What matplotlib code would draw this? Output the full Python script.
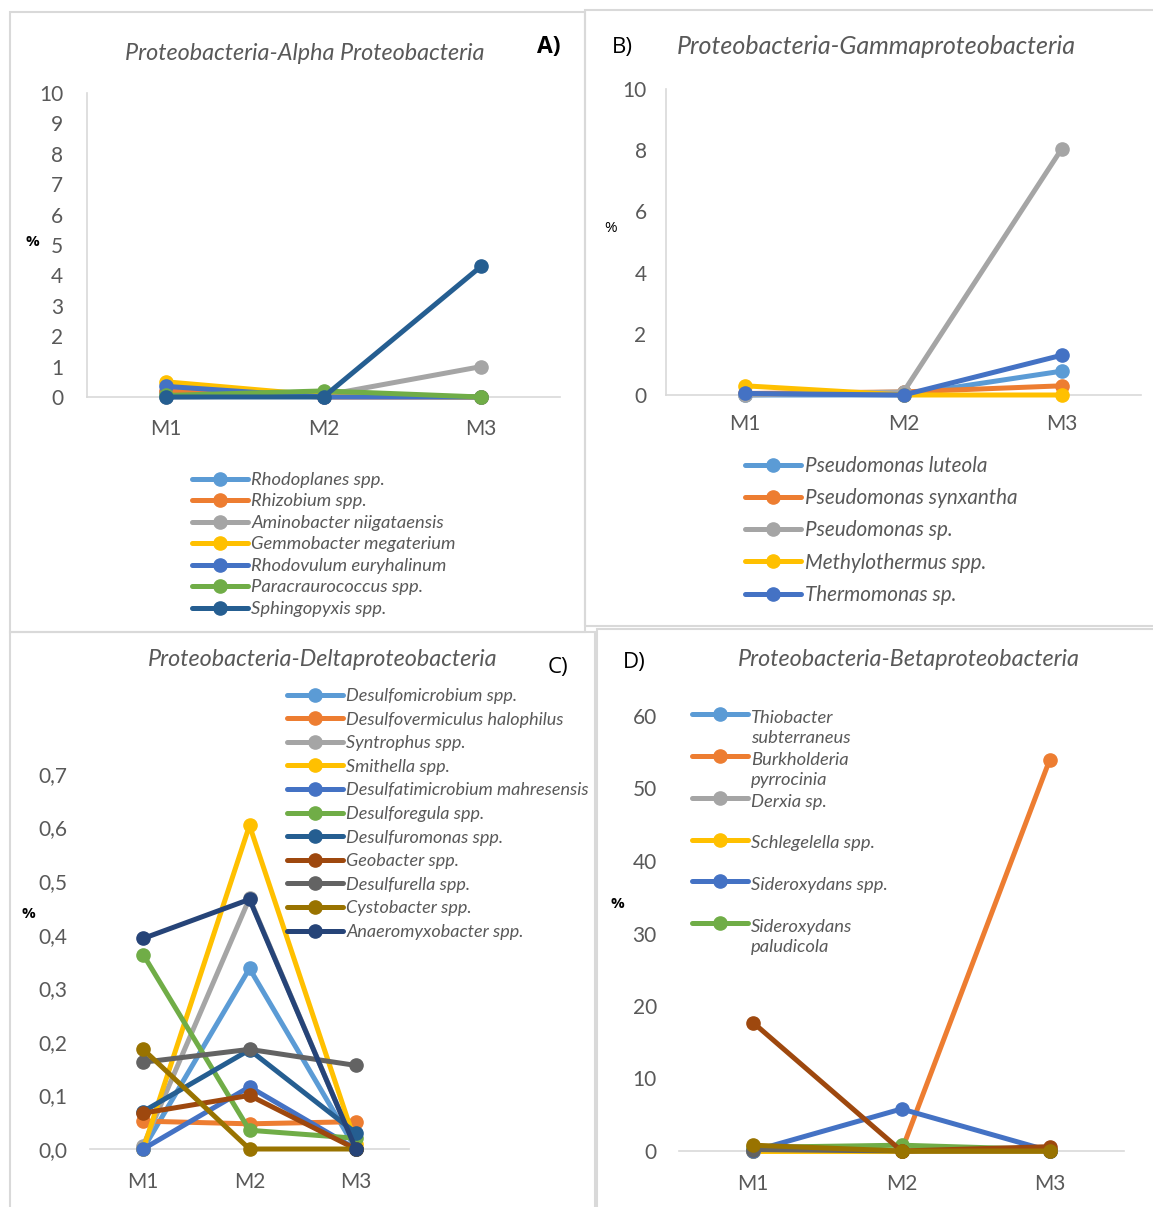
import numpy as np
import matplotlib
matplotlib.use("Agg")
import matplotlib.pyplot as plt
from matplotlib.patches import Rectangle
from matplotlib.lines import Line2D
from matplotlib.legend_handler import HandlerLine2D

plt.rcParams['font.family'] = ['Lato', 'DejaVu Sans']

# ---------------- data ----------------
months = ["M1", "M2", "M3"]

# Panel A - Alpha Proteobacteria (%)
a_labels = ["Rhodoplanes spp.", "Rhizobium spp.", "Aminobacter niigataensis",
            "Gemmobacter megaterium", "Rhodovulum euryhalinum",
            "Paracraurococcus spp.", "Sphingopyxis spp."]
a_rhodoplanes = [0.15, 0.05, 0.0]
a_rhizobium = [0.2, 0.0, 0.0]
a_aminobacter = [0.0, 0.05, 1.0]
a_gemmobacter = [0.5, 0.05, 0.0]
a_rhodovulum = [0.35, 0.0, 0.0]
a_paracraurococcus = [0.05, 0.2, 0.0]
a_sphingopyxis = [0.0, 0.0, 4.3]
a_yticks = list(range(0, 11))

# Panel B - Gammaproteobacteria (%)
b_labels = ["Pseudomonas luteola", "Pseudomonas synxantha", "Pseudomonas sp.",
            "Methylothermus spp.", "Thermomonas sp."]
b_luteola = [0.0, 0.0, 0.78]
b_synxantha = [0.05, 0.1, 0.3]
b_pseudomonas_sp = [0.0, 0.1, 8.05]
b_methylothermus = [0.3, 0.0, 0.0]
b_thermomonas = [0.05, 0.0, 1.3]
b_yticks = [0, 2, 4, 6, 8, 10]

# Panel C - Deltaproteobacteria (%)
c_labels = ["Desulfomicrobium spp.", "Desulfovermiculus halophilus", "Syntrophus spp.",
            "Smithella spp.", "Desulfatimicrobium mahresensis", "Desulforegula spp.",
            "Desulfuromonas spp.", "Geobacter spp.", "Desulfurella spp.",
            "Cystobacter spp.", "Anaeromyxobacter spp."]
c_desulfomicrobium = [0.0, 0.337, 0.0]
c_desulfovermiculus = [0.052, 0.047, 0.051]
c_syntrophus = [0.006, 0.468, 0.0]
c_smithella = [0.0, 0.604, 0.01]
c_desulfatimicrobium = [0.0, 0.116, 0.0]
c_desulforegula = [0.363, 0.035, 0.02]
c_desulfuromonas = [0.07, 0.185, 0.03]
c_geobacter = [0.067, 0.1, 0.0]
c_desulfurella = [0.162, 0.186, 0.156]
c_cystobacter = [0.186, 0.0, 0.0]
c_anaeromyxobacter = [0.393, 0.466, 0.0]
c_yticks = [0.0, 0.1, 0.2, 0.3, 0.4, 0.5, 0.6, 0.7]
c_yticklabels = ["0,0", "0,1", "0,2", "0,3", "0,4", "0,5", "0,6", "0,7"]

# Panel D - Betaproteobacteria (%)
d_labels = ["Thiobacter\nsubterraneus", "Burkholderia\npyrrocinia", "Derxia sp.\n",
            "Schlegelella spp.\n", "Sideroxydans spp.\n", "Sideroxydans\npaludicola"]
d_thiobacter = [0.0, 0.0, 0.0]
d_burkholderia = [0.0, 0.0, 54.0]
d_derxia = [0.0, 0.0, 0.0]
d_schlegelella = [0.0, 0.0, 0.0]
d_sideroxydans = [0.0, 5.8, 0.0]
d_paludicola = [0.5, 0.8, 0.2]
d_extra_brown = [17.7, 0.0, 0.6]
d_extra_darkgray = [0.2, 0.0, 0.0]
d_extra_olive = [0.8, 0.0, 0.0]
d_yticks = [0, 10, 20, 30, 40, 50, 60]

# ---------------- styling ----------------
C_LBLUE = "#5B9BD5"; C_ORANGE = "#ED7D31"; C_GRAY = "#A5A5A5"; C_YELLOW = "#FFC000"
C_BLUE = "#4472C4"; C_GREEN = "#70AD47"; C_DBLUE = "#255E91"; C_BROWN = "#9E480E"
C_DGRAY = "#636363"; C_OLIVE = "#997300"; C_NAVY = "#264478"
TXT = "#595959"
GRID = "#D9D9D9"
LW = 3.6
MS = 9.5
BOLDFONT = ['Open Sans', 'DejaVu Sans']

W, H = 1153, 1207
fig = plt.figure(figsize=(W / 100, H / 100), dpi=100)


def fx(x):
    return x / W


def fy(y):
    return 1 - y / H


def add_axes(left, right, top, bottom):
    return fig.add_axes([fx(left), fy(bottom), (right - left) / W, (bottom - top) / H])


def style_axes(ax, ylim, yticks, yticklabels, ypad, xpad, yaxis_line):
    ax.set_xlim(-0.5, 2.5)
    ax.set_ylim(*ylim)
    ax.set_xticks(range(len(months)))
    ax.set_xticklabels(months)
    ax.set_yticks(yticks)
    ax.set_yticklabels(yticklabels)
    ax.tick_params(axis='both', length=0, labelsize=15, colors=TXT)
    ax.tick_params(axis='y', pad=ypad)
    ax.tick_params(axis='x', pad=xpad)
    for s in ["top", "right"]:
        ax.spines[s].set_visible(False)
    ax.spines["bottom"].set_color(GRID)
    ax.spines["bottom"].set_linewidth(1.2)
    ax.spines["left"].set_visible(yaxis_line)
    ax.spines["left"].set_color(GRID)
    ax.spines["left"].set_linewidth(1.2)
    ax.patch.set_alpha(0)


def draw(ax, series, colors, labels):
    x = np.arange(len(months))
    for vals, col, lab in zip(series, colors, labels):
        ax.plot(x, vals, color=col, lw=LW, marker='o', ms=MS, label=lab,
                solid_capstyle='round', clip_on=False, zorder=3)


class FirstLineHandler(HandlerLine2D):
    def __init__(self, shift, **kw):
        super().__init__(**kw)
        self.shift = shift

    def create_artists(self, legend, orig_handle, xdescent, ydescent, width,
                       height, fontsize, trans):
        arts = super().create_artists(legend, orig_handle, xdescent, ydescent,
                                      width, height, fontsize, trans)
        for a in arts:
            a.set_ydata(np.asarray(a.get_ydata(), dtype=float) + self.shift)
        return arts


def add_legend(handles, labels, x, y, fontsize, spacing, handler_map=None):
    leg = fig.legend(handles, labels, loc='upper left',
                     bbox_to_anchor=(fx(x), fy(y)), frameon=False,
                     borderpad=0, borderaxespad=0, handlelength=40 / fontsize,
                     handletextpad=0.2, labelspacing=spacing,
                     prop={'size': fontsize, 'style': 'italic'},
                     labelcolor=TXT, handler_map=handler_map)
    return leg


# panel borders
for (x0, y0, x1, y1) in [(10, 12, 585, 632), (585, 10, 1160, 626),
                         (10, 632, 595, 1215), (597, 629, 1160, 1215)]:
    fig.patches.append(Rectangle((fx(x0), fy(y1)), (x1 - x0) / W, (y1 - y0) / H,
                                 transform=fig.transFigure, fill=False,
                                 edgecolor=GRID, lw=1.5))

# ---------- Panel A ----------
axA = add_axes(87, 560, 93, 397)
style_axes(axA, (0, 10), a_yticks, [str(v) for v in a_yticks], 17, 16, True)
a_series = [a_rhodoplanes, a_rhizobium, a_aminobacter, a_gemmobacter,
            a_rhodovulum, a_paracraurococcus, a_sphingopyxis]
a_colors = [C_LBLUE, C_ORANGE, C_GRAY, C_YELLOW, C_BLUE, C_GREEN, C_DBLUE]
draw(axA, a_series, a_colors, a_labels)
hA, lA = axA.get_legend_handles_labels()
add_legend(hA, lA, 192, 472, 13.2, 0.3)
fig.text(fx(305), fy(54), "Proteobacteria-Alpha Proteobacteria", ha='center', va='center',
         fontsize=16.8, style='italic', color=TXT)
fig.text(fx(549), fy(47), "A)", ha='center', va='center', fontsize=16.5, weight='bold',
         family=BOLDFONT)
fig.text(fx(32), fy(242), "%", ha='center', va='center', fontsize=11, weight='bold',
         family=BOLDFONT)

# ---------- Panel B ----------
axB = add_axes(666, 1141, 89, 395)
style_axes(axB, (0, 10), b_yticks, [str(v) for v in b_yticks], 14, 13.5, True)
b_series = [b_luteola, b_synxantha, b_pseudomonas_sp, b_methylothermus, b_thermomonas]
b_colors = [C_LBLUE, C_ORANGE, C_GRAY, C_YELLOW, C_BLUE]
draw(axB, b_series, b_colors, b_labels)
hB, lB = axB.get_legend_handles_labels()
add_legend(hB, lB, 745, 456, 14.9, 0.59)
fig.text(fx(876), fy(47), "Proteobacteria-Gammaproteobacteria", ha='center', va='center',
         fontsize=18, style='italic', color=TXT)
fig.text(fx(622), fy(47), "B)", ha='center', va='center', fontsize=16, family=BOLDFONT)
fig.text(fx(611), fy(229), "%", ha='center', va='center', fontsize=11, family=BOLDFONT)

# ---------- Panel C ----------
axC = add_axes(90, 409, 774, 1149)
style_axes(axC, (0, 0.7), c_yticks, c_yticklabels, 16.5, 16.5, False)
c_series = [c_desulfomicrobium, c_desulfovermiculus, c_syntrophus, c_smithella,
            c_desulfatimicrobium, c_desulforegula, c_desulfuromonas, c_geobacter,
            c_desulfurella, c_cystobacter, c_anaeromyxobacter]
c_colors = [C_LBLUE, C_ORANGE, C_GRAY, C_YELLOW, C_BLUE, C_GREEN, C_DBLUE,
            C_BROWN, C_DGRAY, C_OLIVE, C_NAVY]
draw(axC, c_series, c_colors, c_labels)
hC, lC = axC.get_legend_handles_labels()
add_legend(hC, lC, 287, 688, 13.0, 0.42)
fig.text(fx(323), fy(660), "Proteobacteria-Deltaproteobacteria", ha='center', va='center',
         fontsize=16.8, style='italic', color=TXT)
fig.text(fx(558), fy(668), "C)", ha='center', va='center', fontsize=16, family=BOLDFONT)
fig.text(fx(28), fy(914), "%", ha='center', va='center', fontsize=11, weight='bold',
         family=BOLDFONT)

# ---------- Panel D ----------
axD = add_axes(679, 1124, 716, 1151)
style_axes(axD, (0, 60), d_yticks, [str(v) for v in d_yticks], 16, 16.5, False)
d_series = [d_thiobacter, d_burkholderia, d_derxia, d_schlegelella, d_sideroxydans,
            d_paludicola, d_extra_darkgray, d_extra_brown, d_extra_olive]
d_colors = [C_LBLUE, C_ORANGE, C_GRAY, C_YELLOW, C_BLUE, C_GREEN, C_DGRAY, C_BROWN, C_OLIVE]
d_all_labels = d_labels + ["_nolegend_"] * 3
draw(axD, d_series, d_colors, d_all_labels)
hD, lD = axD.get_legend_handles_labels()
legD = add_legend(hD, lD, 692, 710, 13.2, 0.32,
                  handler_map={Line2D: FirstLineHandler(shift=13.2 * 0.75)})
for t in legD.get_texts():
    t.set_linespacing(1.3)
fig.text(fx(909), fy(660), "Proteobacteria-Betaproteobacteria", ha='center', va='center',
         fontsize=16.8, style='italic', color=TXT)
fig.text(fx(634), fy(662), "D)", ha='center', va='center', fontsize=16, family=BOLDFONT)
fig.text(fx(617), fy(904), "%", ha='center', va='center', fontsize=11, weight='bold',
         family=BOLDFONT)

fig.savefig("out.png", dpi=100)
